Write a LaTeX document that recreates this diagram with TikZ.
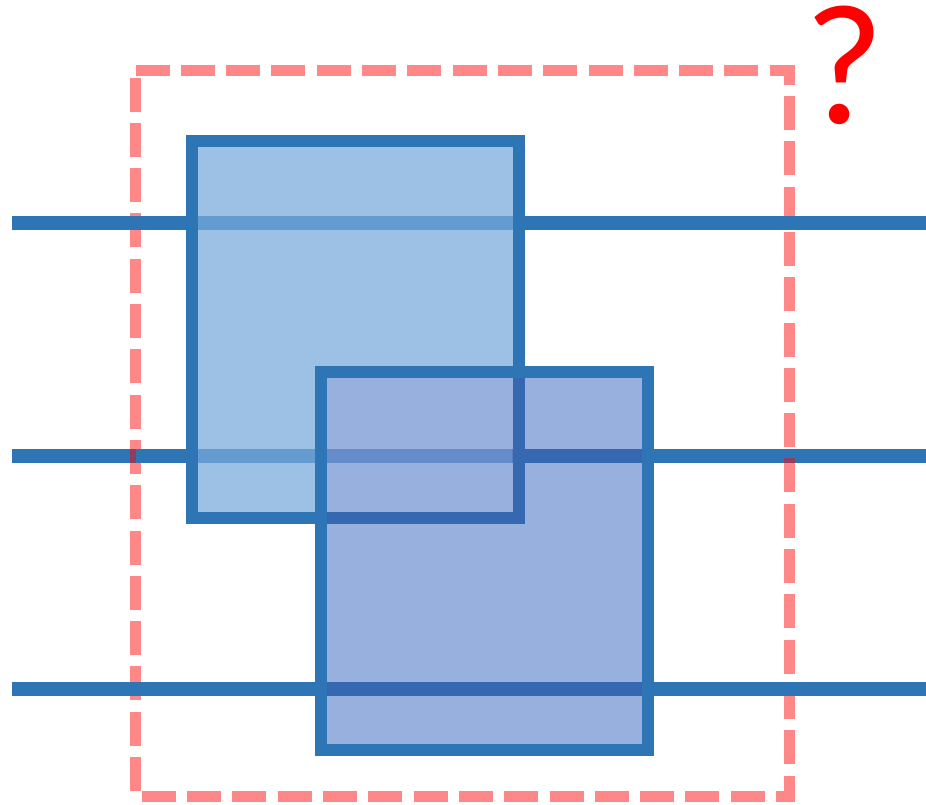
\documentclass[tikz,border=0pt]{standalone}
\usepackage{fontspec}
\newfontfamily\qfont{Carlito}
\definecolor{lineblue}{RGB}{46,117,182}
\definecolor{darkblue}{RGB}{54,104,177}
\definecolor{midblue}{RGB}{100,140,200}
\definecolor{boxonecol}{RGB}{121,171,220}
\definecolor{boxtwocol}{RGB}{152,176,222}
\definecolor{qred}{RGB}{255,0,0}
\begin{document}
\begin{tikzpicture}[x=1pt,y=-1pt,
  hline/.style={draw=lineblue,line width=14pt},
  hlinedark/.style={draw=darkblue,line width=14pt},
  hlinemid/.style={draw=midblue,line width=14pt},
  dashbox/.style={draw=red,draw opacity=0.47,line width=11pt,dash pattern=on 34pt off 11.3pt},
  boxone/.style={fill=boxonecol,fill opacity=0.73},
  boxtwo/.style={fill=boxtwocol},
  boxborder/.style={draw=lineblue,line width=12pt},
  boxborderdark/.style={draw=darkblue,line width=12pt}]
\useasboundingbox (0,0) rectangle (926,804);
\fill[white] (0,0) rectangle (926,804);
% coordinates
\coordinate (l1a) at (12,223);  \coordinate (l1b) at (926,223);
\coordinate (l2a) at (12,456);  \coordinate (l2b) at (926,456);
\coordinate (l3a) at (12,689);  \coordinate (l3b) at (926,689);
\coordinate (m2a) at (136,456); \coordinate (m2b) at (696,456);
\coordinate (dtl) at (135.5,70.5); \coordinate (dtr) at (789.5,70.5);
\coordinate (dbr) at (789.5,796); \coordinate (dbl) at (135.5,796);
\coordinate (b1a) at (191.5,141); \coordinate (b1b) at (518.5,517.5);
\coordinate (b1ia) at (197.5,147); \coordinate (b1ib) at (512.5,511.5);
\coordinate (b2a) at (321,372); \coordinate (b2b) at (648,750);
\coordinate (b2ia) at (327,378); \coordinate (b2ib) at (642,744);
% middle line (under the dashed region)
\draw[hline] (l2a) -- (l2b);
% dashed region
\draw[dashbox] (dtl) -- (dtr) -- (dbr) -- (dbl) -- cycle;
% lines over the dashed region
\draw[hline] (l1a) -- (l1b);
\draw[hline] (l3a) -- (l3b);
\draw[hline] (m2a) -- (m2b);
% box one
\fill[boxone] (b1a) rectangle (b1b);
\draw[boxborder] (b1a) rectangle (b1b);
% box two
\fill[boxtwo] (b2a) rectangle (b2b);
\begin{scope}
  \clip (b2ia) rectangle (b2ib);
  \draw[hlinedark] (l2a) -- (l2b);
  \draw[hlinedark] (l3a) -- (l3b);
  \draw[boxborderdark] (b1a) rectangle (b1b);
  \begin{scope}
    \clip (b1ia) rectangle (b1ib);
    \draw[hlinemid] (l2a) -- (l2b);
  \end{scope}
\end{scope}
\draw[boxborder] (b2a) rectangle (b2b);
% question mark
\node[text=qred,font=\qfont\fontsize{172}{172}\selectfont,inner sep=0pt,anchor=base] (q) at (844,123) {?};
\end{tikzpicture}
\end{document}
